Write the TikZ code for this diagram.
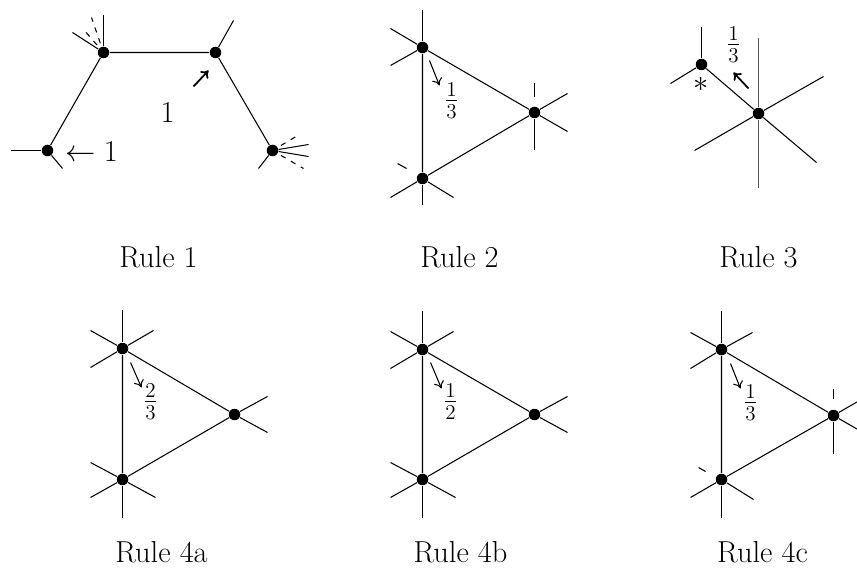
\documentclass[tikz,border=0pt]{standalone}
\usepackage{amsmath}
\usetikzlibrary{positioning, arrows.meta}

\begin{document}
\begin{tikzpicture}[x=0.02cm, y=-0.02cm, line width=0.6pt,
  font=\LARGE,
  dot/.style={circle, fill, inner sep=0pt, minimum size=0.23cm},
  ghost/.style={dash pattern=on 3pt off 3.5pt, shorten <=2pt},
  faint/.style={line width=0.5pt, black!65},
  share/.style={-{To[length=4pt, width=6pt]}, line width=0.6pt},
  boost/.style={-{To[length=4pt, width=6pt]}, line width=1pt},
  frac/.style={inner sep=0pt},
  caption/.style={inner sep=0pt}]
  \useasboundingbox (-0.5,-0.5) rectangle (856.5,572.5);

  % Rule 1
  \node[dot] (r1a) at (47,150) {};
  \node[dot] (r1b) at (103,52) {};
  \node[dot] (r1c) at (215,52) {};
  \node[dot] (r1d) at (272,150) {};
  \draw (r1a) -- (r1b) -- (r1c) -- (r1d);
  \draw (r1a) -- +(-37,0);
  \draw (r1a) -- +(15,18);
  \draw (r1b) -- +(0,-37);
  \draw (r1b) -- +(-31,-20);
  \draw[ghost] (r1b) -- +(-12,-35);
  \draw[ghost] (r1b) -- +(-20,-23);
  \draw (r1c) -- +(18,-32);
  \draw (r1d) -- +(-14,18);
  \draw (r1d) -- +(36,-6);
  \draw (r1d) -- +(36,6);
  \draw[ghost] (r1d) -- +(27,-16);
  \draw[ghost] (r1d) -- +(31,18);
  \node (r1left) at (91,151) {$\leftarrow 1$};
  \coordinate (r1tail) at (193,86);
  \draw[boost] (r1tail) -- +(15,-16);
  \node (r1mid) at (167,112) {$1$};
  \node[caption] (cap1) at (158,257) {Rule 1};

  % Rule 2
  \node[dot] (r2a) at (422,47) {};
  \node[dot] (r2b) at (534,112) {};
  \node[dot] (r2c) at (422,178) {};
  \draw (r2a) -- (r2b) -- (r2c) -- (r2a);
  \draw (r2a) -- +(0,-37);
  \draw (r2a) -- +(-32,-19);
  \draw (r2a) -- +(-32,18);
  \draw (r2b) -- +(33,-19);
  \draw (r2b) -- +(33,19);
  \draw (r2b) -- +(0,38);
  \draw (r2b) ++(0,-15) -- ++(0,-14);
  \draw (r2c) -- +(0,27);
  \draw (r2c) -- +(-32,19);
  \draw (r2c) -- +(31,19);
  \draw (r2c) ++(-16,-10) -- ++(-9,-5);
  \draw[share] (r2a) ++(7,13) -- ++(10,25);
  \node[frac] (r2f) at (451,100) {$\frac{1}{3}$};
  \node[caption] (cap2) at (459,257) {Rule 2};

  % Rule 3
  \node[dot] (r3a) at (701,64) {};
  \node[dot] (r3b) at (758,113) {};
  \draw (r3a) -- (r3b);
  \draw (r3a) -- +(0,-37);
  \draw (r3a) -- +(-31,19);
  \draw[faint] (r3b) -- +(0,-75);
  \draw[faint] (r3b) -- +(0,75);
  \draw (r3b) -- +(65,-37);
  \draw (r3b) -- +(-64,37);
  \draw (r3b) -- +(58,49);
  \node (r3star) at (701,84) {$*$};
  \coordinate (r3tail) at (748,88);
  \draw[boost] (r3tail) -- +(-15,-16);
  \node[frac] (r3f) at (733,44) {$\frac{1}{3}$};
  \node[caption] (cap3) at (758,257) {Rule 3};

  % Rule 4a
  \node[dot] (r4a) at (122,348) {};
  \node[dot] (r4b) at (234,414) {};
  \node[dot] (r4c) at (122,479) {};
  \draw (r4a) -- (r4b) -- (r4c) -- (r4a);
  \draw (r4a) -- +(0,-38);
  \draw (r4a) -- +(-32,-18);
  \draw (r4a) -- +(-32,19);
  \draw (r4a) -- +(31,-18);
  \draw (r4b) -- +(33,-18);
  \draw (r4b) -- +(33,18);
  \draw (r4c) -- +(0,38);
  \draw (r4c) -- +(-32,-17);
  \draw (r4c) -- +(-32,18);
  \draw (r4c) -- +(33,18);
  \draw[share] (r4a) ++(8,14) -- ++(11,25);
  \node[frac] (r4f) at (150,401) {$\frac{2}{3}$};
  \node[caption] (cap4) at (161,552) {Rule 4a};

  % Rule 4b
  \node[dot] (r5a) at (422,349) {};
  \node[dot] (r5b) at (534,414) {};
  \node[dot] (r5c) at (422,479) {};
  \draw (r5a) -- (r5b) -- (r5c) -- (r5a);
  \draw (r5a) -- +(0,-38);
  \draw (r5a) -- +(-32,-18);
  \draw (r5a) -- +(-32,19);
  \draw (r5a) -- +(31,-18);
  \draw (r5b) -- +(33,-18);
  \draw (r5b) -- +(33,18);
  \draw (r5c) -- +(0,38);
  \draw (r5c) -- +(-32,-17);
  \draw (r5c) -- +(-32,18);
  \draw (r5c) -- +(33,18);
  \draw[share] (r5a) ++(8,13) -- ++(11,26);
  \node[frac] (r5f) at (450,401) {$\frac{1}{2}$};
  \node[caption] (cap5) at (460,552) {Rule 4b};

  % Rule 4c
  \node[dot] (r6a) at (721,349) {};
  \node[dot] (r6b) at (833,415) {};
  \node[dot] (r6c) at (721,479) {};
  \draw (r6a) -- (r6b) -- (r6c) -- (r6a);
  \draw (r6a) -- +(0,-38);
  \draw (r6a) -- +(-31,-17);
  \draw (r6a) -- +(-31,19);
  \draw (r6a) -- +(31,-17);
  \draw (r6b) -- +(33,-19);
  \draw (r6b) -- +(33,19);
  \draw (r6b) -- +(0,38);
  \draw (r6b) ++(0,-17) -- ++(0,-10);
  \draw (r6c) -- +(0,38);
  \draw (r6c) -- +(-31,18);
  \draw (r6c) -- +(32,20);
  \draw (r6c) ++(-16,-8) -- ++(-7,-4);
  \draw[share] (r6a) ++(9,14) -- ++(10,25);
  \node[frac] (r6f) at (750,402) {$\frac{1}{3}$};
  \node[caption] (cap6) at (762,552) {Rule 4c};
\end{tikzpicture}
\end{document}
